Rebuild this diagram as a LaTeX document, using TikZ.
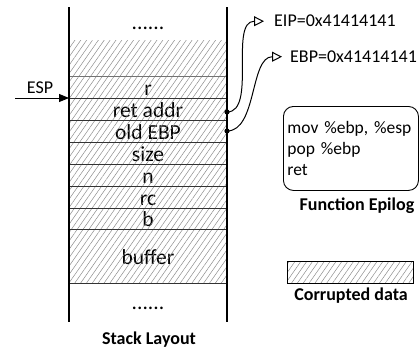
\documentclass[tikz,border=0pt]{standalone}
\usepackage{fontspec}
\setmainfont{Carlito}
\usetikzlibrary{patterns.meta,arrows.meta}
\begin{document}
\begin{tikzpicture}[x=1pt,y=-1pt,
  hatch/.style={pattern={Lines[angle=55,distance=4.8pt,line width=0.5pt]},pattern color=black!45},
  cell/.style={minimum width=158pt, minimum height=22pt, inner sep=0pt, outer sep=0pt,
    anchor=north west, font=\fontsize{21.5}{24}\selectfont, text height=17pt, text depth=1pt},
  sep/.style={draw=black!80, line width=0.9pt},
  wall/.style={draw=black, line width=1.1pt},
  lbl/.style={inner sep=0pt, font=\fontsize{18}{21}\selectfont},
  bold/.style={inner sep=0pt, font=\bfseries\fontsize{18}{21}\selectfont, anchor=base},
  ptr/.style={line width=1pt, -{Triangle[open,length=10pt,width=10pt,line width=1pt]}},
  dotmark/.style={fill=black}]
\useasboundingbox (0,0) rectangle (420,348);

% stack cells
\node[cell, minimum height=36pt] (cor) at (69,40) {};
\node[cell] (r) at (69,76) {r};
\node[cell] (ret) at (69,98) {ret addr};
\node[cell] (old) at (69,120) {old EBP};
\node[cell] (size) at (69,142) {size};
\node[cell] (n) at (69,164) {n};
\node[cell] (rc) at (69,186) {rc};
\node[cell, minimum height=21pt] (b) at (69,208) {b};
\node[cell, minimum height=54pt] (buf) at (69,229) {buffer};

\fill[hatch] (cor.north west) rectangle (buf.south east);

% separators
\draw[sep, draw=black!55] (r.north west) -- (r.north east);
\foreach \c in {ret,old,size,n,rc,b,buf}{
  \draw[sep] (\c.north west) -- (\c.north east);
}
\draw[sep] (buf.south west) -- (buf.south east);

% walls
\coordinate (wlt) at (69,7);
\coordinate (wlb) at (69,322);
\coordinate (wrt) at (227,7);
\coordinate (wrb) at (227,322);
\draw[wall] (wlt) -- (wlb);
\draw[wall] (wrt) -- (wrb);

% dots
\node[lbl, anchor=base, font=\fontsize{21.5}{24}\selectfont] (dtop) at (148,29) {......};
\node[lbl, anchor=base, font=\fontsize{21.5}{24}\selectfont] (dbot) at (148,309) {......};

\node[bold] (stack) at (149,344) {Stack Layout};

% ESP
\node[lbl, anchor=base] (esp) at (40,93) {ESP};
\coordinate (espstart) at (15,98);
\draw[line width=1pt, -{Triangle[length=10pt,width=8pt]}] (espstart) -- (ret.north west);

% pointer dots
\coordinate (d1) at ([yshift=-3pt]ret.east);
\coordinate (d2) at (old.east);
\fill[dotmark] (d1) circle (2.6);
\fill[dotmark] (d2) circle (2.6);

% registers
\node[lbl, anchor=base west] (eip) at (274,27) {EIP=0x41414141};
\node[lbl, anchor=base west] (ebp) at (290,62.5) {EBP=0x41414141};
\draw[ptr, shorten >=10pt] (d1) .. controls +(30,0) and +(-45,0) .. (eip.west);
\draw[ptr, shorten >=8pt] (d2) .. controls +(30,0) and +(-40,0) .. (ebp.west);

% function epilog
\node[draw, line width=0.9pt, rounded corners=10pt, anchor=north west, align=left,
  text width=127pt, inner xsep=4pt, inner ysep=0pt, minimum height=84pt,
  font=\fontsize{17.5}{21}\selectfont] (epi) at (283,106) {mov~\%ebp,~\%esp\\pop~\%ebp\\ret};
\node[bold] (epit) at (357,210.5) {Function Epilog};

% legend
\node[draw, line width=0.9pt, hatch, minimum width=126pt, minimum height=22pt, anchor=north west, inner sep=0pt] (leg) at (287,261) {};
\node[bold] (legt) at (351,300) {Corrupted data};
\end{tikzpicture}
\end{document}
